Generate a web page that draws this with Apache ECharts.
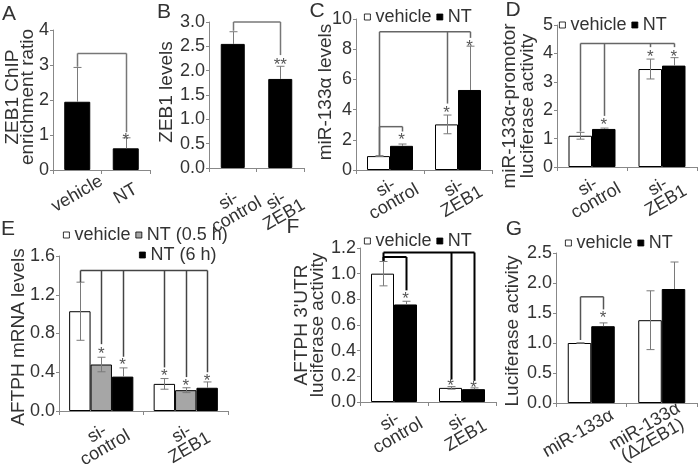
<!DOCTYPE html>
<html><head><meta charset="utf-8">
<script src="https://cdn.jsdelivr.net/npm/echarts@6/dist/echarts.min.js"></script>
<style>html,body{margin:0;padding:0;background:#fff}#c{width:700px;height:472px}</style>
</head><body><div id="c"></div>
<script>
// ================= DATA =================
// Panel A
const catA = ['vehicle', 'NT'];
const valA = [1.95, 0.62];
const errA = [0.98, 0.30];
const bracketsA = [{level: 3.33, legs: [[0, 0, 2.95], [1, 0, 1.08]]}];
const starsA = [[1, 0, 0.97, '*']];
// Panel B
const catB = ['si-\ncontrol', 'si-\nZEB1'];
const valB = [2.55, 1.83];
const errB = [0.25, 0.26];
const bracketsB = [{level: 3.0, legs: [[0, 0, 2.82], [1, 0, 2.32]]}];
const starsB = [[1, 0, 2.19, '**']];
// Panel C
const catC = ['si-\ncontrol', 'si-\nZEB1'];
const vehC = [0.92, 3.02];
const vehErrC = [0.03, 0.62];
const ntC = [1.60, 5.30];
const ntErrC = [0.12, 2.90];
const bracketsC = [
  {level: 9.15, legs: [[0, 0, 0.95], [1, 0, 4.40], [1, 1, 8.75]]},
  {level: 2.87, legs: [[0, 0, 0.95], [0, 1, 2.55]]}
];
const starsC = [[0, 1, 2.25, '*'], [1, 0, 4.05, '*'], [1, 1, 8.40, '*']];
// Panel D
const catD = ['si-\ncontrol', 'si-\nZEB1'];
const vehD = [1.10, 3.45];
const vehErrD = [0.12, 0.35];
const ntD = [1.34, 3.57];
const ntErrD = [0.03, 0.28];
const bracketsD = [{level: 4.35, legs: [[0, 0, 1.25], [0, 1, 1.80], [1, 0, 4.22], [1, 1, 4.22]]}];
const starsD = [[0, 1, 1.60, '*'], [1, 0, 4.0, '*'], [1, 1, 4.0, '*']];
// Panel E
const catE = ['si-\ncontrol', 'si-\nZEB1'];
const vehE = [1.03, 0.28];
const vehErrE = [0.30, 0.055];
const nt05E = [0.48, 0.215];
const nt05ErrE = [0.075, 0.025];
const nt6E = [0.355, 0.24];
const nt6ErrE = [0.09, 0.06];
const bracketsE = [{level: 1.45, legs: [[0, 0, 1.33], [0, 1, 0.69], [0, 2, 0.56], [1, 0, 0.45], [1, 1, 0.35], [1, 2, 0.40]]}];
const starsE = [[0, 1, 0.63, '*'], [0, 2, 0.51, '*'], [1, 0, 0.40, '*'], [1, 1, 0.30, '*'], [1, 2, 0.35, '*']];
// Panel F
const catF = ['si-\ncontrol', 'si-\nZEB1'];
const vehF = [1.00, 0.11];
const vehErrF = [0.095, 0.01];
const ntF = [0.76, 0.10];
const ntErrF = [0.025, 0.01];
const bracketsF = [
  {level: 1.165, legs: [[0, 0, 1.10], [1, 0, 0.175], [1, 1, 0.165]]},
  {level: 1.13, legs: [[0, 0, 1.10], [0, 1, 0.87]]}
];
const starsF = [[0, 1, 0.83, '*'], [1, 0, 0.155, '*'], [1, 1, 0.14, '*']];
// Panel G
const catG = ['miR-133\u03b1', 'miR-133\u03b1\n(\u0394ZEB1)'];
const vehG = [1.00, 1.38];
const vehErrG = [0.005, 0.49];
const ntG = [1.28, 1.90];
const ntErrG = [0.055, 0.45];
const bracketsG = [{level: 1.77, legs: [[0, 0, 1.05], [0, 1, 1.56]]}];
const starsG = [[0, 1, 1.47, '*']];

// ================= LAYOUT / STYLE =================
const FONT = '"Liberation Sans", Arial, sans-serif';
const TXT = '#333';
const AX = '#888';
const L = [
  {grid: {left: 53, top: 30, width: 97, height: 140}, bw: 26, lm: 24, pad: 0},   // A
  {grid: {left: 209, top: 22, width: 95, height: 146}, bw: 24, lm: 40, pad: 0},  // B
  {grid: {left: 356, top: 19, width: 136, height: 151}, bw: 23, lm: 25, pad: 0}, // C
  {grid: {left: 557, top: 25, width: 140, height: 142}, bw: 23.5, lm: 27, pad: 0}, // D
  {grid: {left: 59, top: 256, width: 169, height: 155}, bw: 21.4, lm: 30, pad: 0}, // E
  {grid: {left: 360, top: 248, width: 136, height: 154}, bw: 23, lm: 27, pad: 0},  // F
  {grid: {left: 556, top: 253, width: 141, height: 150}, bw: 23.5, lm: 23, pad: 30} // G
];
const axisDefs = [
  [catA, 0, 4, 1, 0], [catB, 0, 3, 0.5, 1], [catC, 0, 10, 2, 0], [catD, 0, 5, 1, 0],
  [catE, 0, 1.6, 0.4, 1], [catF, 0, 1.2, 0.2, 1], [catG, 0, 2.5, 0.5, 1]
];
const STY = {
  'vehicle': {color: '#fff', borderColor: '#000', borderWidth: 1},
  'NT': {color: '#000', borderColor: '#000', borderWidth: 1},
  'NT (0.5 h)': {color: '#a6a6a6', borderColor: '#000', borderWidth: 1},
  'NT (6 h)': {color: '#000', borderColor: '#000', borderWidth: 1}
};

const grids = [], xAxes = [], yAxes = [], series = [];
axisDefs.forEach(([cats, mn, mx, iv, dec], p) => {
  grids.push(Object.assign({outerBoundsMode: 'none', containLabel: false}, L[p].grid));
  xAxes.push({
    type: 'category', gridIndex: p, data: cats,
    axisLine: {lineStyle: {color: AX, width: 1}},
    axisTick: {show: true, length: 4, lineStyle: {color: AX}},
    axisLabel: {interval: 0, rotate: 30, align: 'center', verticalAlign: 'middle',
      margin: L[p].lm, padding: [0, L[p].pad, 0, 0], fontSize: 18, lineHeight: 16, color: TXT, fontFamily: FONT},
    splitLine: {show: false}
  });
  yAxes.push({
    type: 'value', gridIndex: p, min: mn, max: mx, interval: iv,
    axisLine: {show: true, lineStyle: {color: AX, width: 1}},
    axisTick: {show: true, length: 3, lineStyle: {color: AX}},
    axisLabel: {fontSize: 18, color: TXT, margin: 4, fontFamily: FONT,
      formatter: v => v.toFixed(dec)},
    splitLine: {show: false}
  });
});

function barS(p, name, vals, bw) {
  return {type: 'bar', name, xAxisIndex: p, yAxisIndex: p, data: vals, barWidth: bw,
    barGap: '0%', itemStyle: STY[name], silent: true, z: 2};
}
function errS(p, gi, ng, vals, errs, bw, onlyUp) {
  return {
    type: 'custom', xAxisIndex: p, yAxisIndex: p, z: 5, silent: true, clip: false,
    data: vals.map((v, i) => [i, v, errs[i]]), encode: {x: 0, y: 1},
    renderItem: (params, api) => {
      const c = api.value(0), v = api.value(1), e = api.value(2);
      const off = (gi - (ng - 1) / 2) * bw;
      const t = api.coord([c, v + e]), b = api.coord([c, onlyUp ? v : v - e]);
      const x = Math.round(t[0] + off) + 0.5, cap = 4;
      const st = {stroke: '#7a7a7a', lineWidth: 1};
      const ch = [
        {type: 'line', shape: {x1: x, y1: t[1], x2: x, y2: b[1]}, style: st},
        {type: 'line', shape: {x1: x - cap, y1: t[1], x2: x + cap, y2: t[1]}, style: st}
      ];
      if (!onlyUp) ch.push({type: 'line', shape: {x1: x - cap, y1: b[1], x2: x + cap, y2: b[1]}, style: st});
      return {type: 'group', children: ch};
    }
  };
}
function brS(p, ng, bw, brs, color, lw) {
  return {
    type: 'custom', xAxisIndex: p, yAxisIndex: p, z: 6, silent: true, clip: false,
    data: brs.map((b, i) => [0, b.level]), encode: {x: 0, y: 1},
    renderItem: (params, api) => {
      const b = brs[params.dataIndex];
      const st = {stroke: color, lineWidth: lw};
      const pts = b.legs.map(([c, g, bot]) => {
        const t = api.coord([c, b.level]), bb = api.coord([c, bot]);
        return [Math.round(t[0] + (g - (ng - 1) / 2) * bw) + 0.5, t[1], bb[1]];
      });
      const xs = pts.map(q => q[0]);
      const y = pts[0][1];
      const ch = [{type: 'line', shape: {x1: Math.min(...xs), y1: y, x2: Math.max(...xs), y2: y}, style: st}];
      pts.forEach(q => ch.push({type: 'line', shape: {x1: q[0], y1: y, x2: q[0], y2: q[2]}, style: st}));
      return {type: 'group', children: ch};
    }
  };
}
function starS(p, ng, bw, stars) {
  return {
    type: 'custom', xAxisIndex: p, yAxisIndex: p, z: 7, silent: true, clip: false,
    data: stars.map(s => [s[0], s[2]]), encode: {x: 0, y: 1},
    renderItem: (params, api) => {
      const s = stars[params.dataIndex];
      const c = api.coord([s[0], s[2]]);
      return {type: 'text', x: c[0] + (s[1] - (ng - 1) / 2) * bw, y: c[1] + 4,
        style: {text: s[3], fill: '#555', font: '17px ' + FONT, align: 'center', verticalAlign: 'middle'}};
    }
  };
}

// A
series.push(barS(0, 'NT', valA, L[0].bw), errS(0, 0, 1, valA, errA, L[0].bw, true),
  brS(0, 1, L[0].bw, bracketsA, '#777', 1.5), starS(0, 1, L[0].bw, starsA));
// B
series.push(barS(1, 'NT', valB, L[1].bw), errS(1, 0, 1, valB, errB, L[1].bw, true),
  brS(1, 1, L[1].bw, bracketsB, '#777', 1.5), starS(1, 1, L[1].bw, starsB));
// C
series.push(barS(2, 'vehicle', vehC, L[2].bw), barS(2, 'NT', ntC, L[2].bw),
  errS(2, 0, 2, vehC, vehErrC, L[2].bw, false), errS(2, 1, 2, ntC, ntErrC, L[2].bw, true),
  brS(2, 2, L[2].bw, bracketsC, '#666', 1.5), starS(2, 2, L[2].bw, starsC));
// D
series.push(barS(3, 'vehicle', vehD, L[3].bw), barS(3, 'NT', ntD, L[3].bw),
  errS(3, 0, 2, vehD, vehErrD, L[3].bw, false), errS(3, 1, 2, ntD, ntErrD, L[3].bw, true),
  brS(3, 2, L[3].bw, bracketsD, '#666', 1.5), starS(3, 2, L[3].bw, starsD));
// E
series.push(barS(4, 'vehicle', vehE, L[4].bw), barS(4, 'NT (0.5 h)', nt05E, L[4].bw), barS(4, 'NT (6 h)', nt6E, L[4].bw),
  errS(4, 0, 3, vehE, vehErrE, L[4].bw, false), errS(4, 1, 3, nt05E, nt05ErrE, L[4].bw, false),
  errS(4, 2, 3, nt6E, nt6ErrE, L[4].bw, true),
  brS(4, 3, L[4].bw, bracketsE, '#444', 1.5), starS(4, 3, L[4].bw, starsE));
// F
series.push(barS(5, 'vehicle', vehF, L[5].bw), barS(5, 'NT', ntF, L[5].bw),
  errS(5, 0, 2, vehF, vehErrF, L[5].bw, false), errS(5, 1, 2, ntF, ntErrF, L[5].bw, true),
  brS(5, 2, L[5].bw, bracketsF, '#000', 2), starS(5, 2, L[5].bw, starsF));
// G
series.push(barS(6, 'vehicle', vehG, L[6].bw), barS(6, 'NT', ntG, L[6].bw),
  errS(6, 0, 2, vehG, vehErrG, L[6].bw, false), errS(6, 1, 2, ntG, ntErrG, L[6].bw, true),
  brS(6, 2, L[6].bw, bracketsG, '#555', 1.5), starS(6, 2, L[6].bw, starsG));

const legBase = {orient: 'horizontal', icon: 'rect', itemWidth: 6, itemHeight: 6, itemGap: 5,
  selectedMode: false, textStyle: {fontSize: 18, color: TXT, fontFamily: FONT}, padding: 0,
  itemStyle: {borderWidth: 0.8}};
const legends = [
  Object.assign({data: ['vehicle', 'NT'], left: 364, top: 8}, legBase),
  Object.assign({data: ['vehicle', 'NT'], left: 559, top: 16}, legBase),
  Object.assign({data: ['vehicle', 'NT (0.5 h)'], left: 63, top: 226}, legBase),
  Object.assign({data: ['NT (6 h)'], left: 139, top: 246}, legBase),
  Object.assign({data: ['vehicle', 'NT'], left: 364, top: 232}, legBase),
  Object.assign({data: ['vehicle', 'NT'], left: 565, top: 234}, legBase)
];

function vt(text, x, y, lh) {
  return {type: 'text', x, y, rotation: Math.PI / 2,
    style: {text, font: '19px ' + FONT, fill: TXT, align: 'center', verticalAlign: 'middle', lineHeight: lh || 16}};
}
function lt(text, x, y) {
  return {type: 'text', x, y, style: {text, font: '21px ' + FONT, fill: TXT, align: 'center', verticalAlign: 'middle'}};
}
const graphics = [
  lt('A', 9, 14), lt('B', 164, 12), lt('C', 317, 11), lt('D', 513, 10),
  lt('E', 8, 229), lt('F', 293, 227), lt('G', 514, 229),
  vt('ZEB1 ChIP\nenrichment ratio', 20, 97, 15),
  vt('ZEB1 levels', 167, 92),
  vt('miR-133\u03b1 levels', 326, 92),
  vt('miR-133\u03b1-promotor\nluciferase activity', 519, 106, 18),
  vt('AFTPH mRNA levels', 19, 337),
  vt('AFTPH 3\'UTR\nluciferase activity', 310, 325, 16),
  vt('Luciferase activity', 513, 331)
];

const chart = echarts.init(document.getElementById('c'), null, {renderer: 'canvas'});
chart.setOption({
  animation: false,
  backgroundColor: '#fff',
  textStyle: {fontFamily: FONT},
  grid: grids, xAxis: xAxes, yAxis: yAxes, series, legend: legends, graphic: graphics
});
</script></body></html>
